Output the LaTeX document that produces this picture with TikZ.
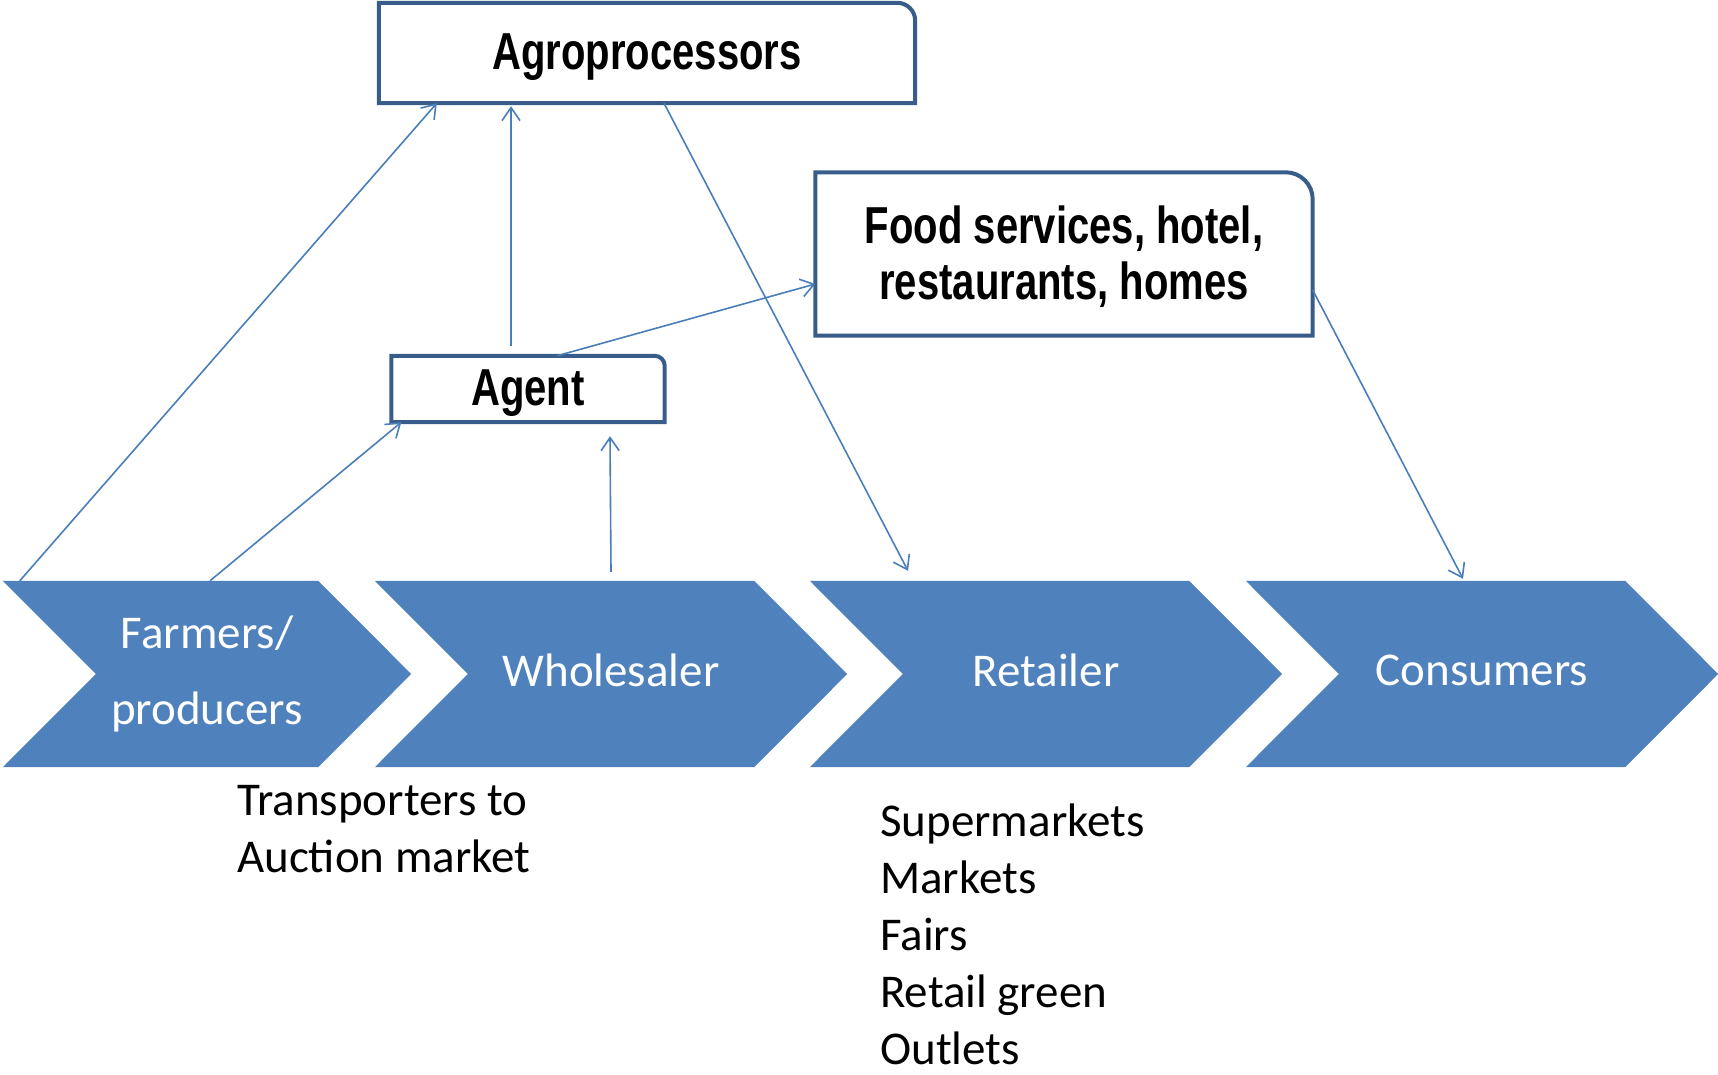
\documentclass[tikz,border=0pt]{standalone}
\usepackage{fontspec}
\setmainfont{Carlito}
\newfontfamily\boldnarrow[FakeStretch=0.77]{Liberation Sans}
\usetikzlibrary{arrows.meta,calc}
\definecolor{chev}{HTML}{4F81BD}
\definecolor{framec}{HTML}{385D8A}
\definecolor{linkc}{HTML}{4A7EBB}
\pgfdeclarelayer{background}
\pgfsetlayers{background,main}
% single-line stage labels sit a little higher in their arrows
\newcommand{\lifted}[1]{\raisebox{4pt}[\height][\depth]{#1}}
\begin{document}
\begin{tikzpicture}[x=1pt,y=-1pt,
  chevtext/.style={rectangle, minimum width=379pt, minimum height=186pt, inner sep=0pt,
    text=white, font=\fontsize{47}{76}\selectfont, align=center},
  boxshape/.style={rectangle, inner sep=0pt},
  boxtext/.style={rectangle, inner sep=0pt, align=center,
    font=\boldnarrow\bfseries\fontsize{52}{56}\selectfont},
  frameline/.style={draw=framec, line width=4pt},
  link/.style={draw=linkc, line width=1.6pt,
    -{Straight Barb[length=13pt,width=18pt,line width=1.6pt]}},
  note/.style={inner sep=0pt, anchor=west, align=left, font=\fontsize{47}{57}\selectfont}]

\useasboundingbox (0,0) rectangle (1718,1075);

% chain of stages
\node[chevtext, minimum width=315pt] (far) at (207,674) {Farmers/\\producers};
\node[chevtext] (whole) at (611,674) {\lifted{Wholesaler}};
\node[chevtext] (ret) at (1046,674) {\lifted{Retailer}};
\node[chevtext] (cons) at (1482,674) {\lifted{Consumers}};

\begin{pgfonlayer}{background}
\foreach \n in {far,whole,ret,cons}{
  \fill[chev] ([xshift=-46.5pt]\n.north west) -- ([xshift=-46.5pt]\n.north east)
    -- ([xshift=46.5pt]\n.east) -- ([xshift=-46.5pt]\n.south east)
    -- ([xshift=-46.5pt]\n.south west) -- ([xshift=46.5pt]\n.west) -- cycle;
}
\end{pgfonlayer}

% intermediaries
\node[boxshape, minimum width=536pt, minimum height=100pt] (agro) at (647,53) {};
\node[boxshape, minimum width=497pt, minimum height=163pt] (food) at (1064,254) {};
\node[boxshape, minimum width=273pt, minimum height=66pt] (agent) at (528,389) {};
\node[boxtext] (agro-label) at ([yshift=-4pt]agro.center) {Agroprocessors};
\node[boxtext] (food-label) at ([yshift=-3pt]food.center) {Food services, hotel,\\restaurants, homes};
\node[boxtext] (agent-label) at ([yshift=-4pt]agent.center) {Agent};

\draw[frameline] (agro.south west) -- (agro.north west) -- ([xshift=-18pt]agro.north east)
  arc[start angle=90, end angle=0, radius=18pt] -- (agro.south east) -- cycle;
\draw[frameline] (food.south west) -- (food.north west) -- ([xshift=-27pt]food.north east)
  arc[start angle=90, end angle=0, radius=27pt] -- (food.south east) -- cycle;
\draw[frameline] (agent.south west) -- (agent.north west) -- ([xshift=-10pt]agent.north east)
  arc[start angle=90, end angle=0, radius=10pt] -- (agent.south east) -- cycle;

% notes under the stages
\node[note] (trans) at (237,829) {Transporters to\\Auction market};
\node[note] (outlets) at (880,934) {Supermarkets\\Markets\\Fairs\\Retail green\\Outlets};

% flows
\draw[link] ([xshift=-29.5pt]far.north west) -- ([xshift=58pt]agro.south west);
\draw[link] ([xshift=3pt]far.north) -- ([xshift=10pt]agent.south west);
\draw[link] ([yshift=9pt]whole.north) -- ([xshift=82pt,yshift=-14pt]agent.south);
\draw[link] ([xshift=-17pt,yshift=10pt]agent.north) -- ([xshift=-136pt,yshift=-3pt]agro.south);
\draw[link] ([xshift=29pt]agent.north) -- ([yshift=-30pt]food.west);
\draw[link] ([xshift=17pt]agro.south) -- ([xshift=-138pt,yshift=10pt]ret.north);
\draw[link] ([yshift=-36pt]food.east) -- ([xshift=-19pt,yshift=2pt]cons.north);
\end{tikzpicture}
\end{document}
